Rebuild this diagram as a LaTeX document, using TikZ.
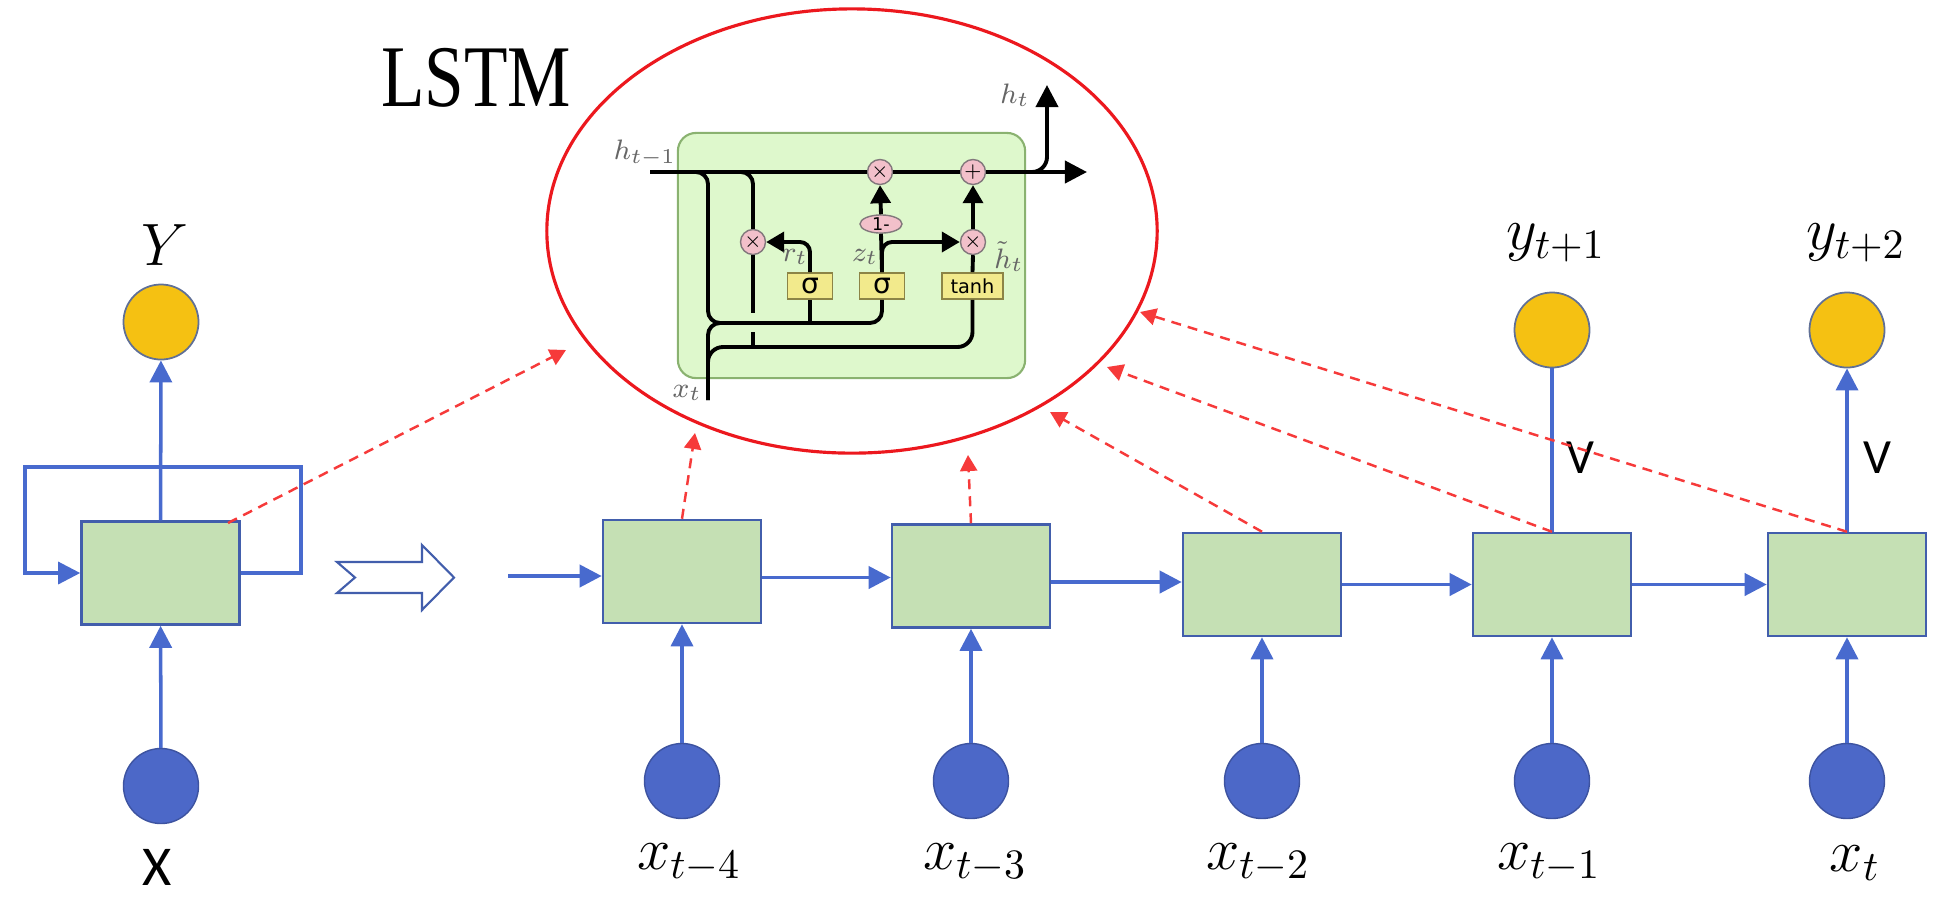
\RequirePackage{fix-cm}
\documentclass[tikz,border=0pt]{standalone}
\usepackage{amsmath}
\usepackage{fontspec}
\newfontfamily\labelsans{Carlito}
\newfontfamily\gatefont{DejaVu Sans}
\newfontfamily\titlefont{Liberation Serif}
\usepackage{tikz}
\usetikzlibrary{positioning, calc, shapes.geometric, arrows.meta}
\definecolor{cellgreen}{RGB}{197, 224, 180}
\definecolor{celledge}{RGB}{66, 94, 172}
\definecolor{rnnblue}{RGB}{72, 106, 206}
\definecolor{inputblue}{RGB}{76, 104, 200}
\definecolor{outyellow}{RGB}{245, 193, 18}
\definecolor{outedge}{RGB}{96, 112, 150}
\definecolor{attnred}{RGB}{246, 58, 58}
\definecolor{ringred}{RGB}{236, 24, 30}
\definecolor{lstmfill}{RGB}{222, 248, 204}
\definecolor{lstmedge}{RGB}{138, 178, 112}
\definecolor{gatefill}{RGB}{242, 234, 140}
\definecolor{gateedge}{RGB}{140, 132, 70}
\definecolor{opfill}{RGB}{242, 192, 202}
\definecolor{opedge}{RGB}{130, 120, 124}
\tikzset{
    cellnode/.style={
        draw=celledge, line width=0.7pt, fill=cellgreen,
        minimum width=1.58cm, minimum height=1.03cm, inner sep=0pt
    },
    inputnode/.style={
        circle, draw=inputblue!80!black, line width=0.4pt, fill=inputblue,
        minimum size=0.75cm, inner sep=0pt
    },
    outputnode/.style={
        circle, draw=outedge, line width=0.5pt, fill=outyellow,
        minimum size=0.75cm, inner sep=0pt
    },
    flow/.style={
        -{Triangle[length=0.22cm, width=0.22cm]}, line width=1.1pt, rnnblue
    },
    attn/.style={
        -{Triangle[length=0.16cm, width=0.17cm]}, dash pattern=on 0.1cm off 0.07cm,
        line width=0.7pt, attnred
    },
    seqlabel/.style={
        font=\fontsize{17}{20}\selectfont, inner sep=0pt
    }
}

\begin{document}
\begin{tikzpicture}[
        x=0.01cm, y=-0.01cm,
        % Style cho o LSTM
        ring/.style={
            ellipse, draw=ringred, line width=0.9pt,
            minimum width=6.1cm, minimum height=4.44cm
        },
        gruframe/.style={
            draw=lstmedge, line width=0.6pt, fill=lstmfill, rounded corners=0.18cm,
            minimum width=3.47cm, minimum height=2.45cm
        },
        opnode/.style={
            circle, draw=opedge, line width=0.4pt, fill=opfill,
            minimum size=0.25cm, inner sep=0pt, font=\fontsize{5}{5}\selectfont
        },
        onenode/.style={
            ellipse, draw=opedge, line width=0.4pt, fill=opfill,
            minimum width=0.42cm, minimum height=0.18cm, inner sep=0pt,
            font=\gatefont\fontsize{5}{5}\selectfont
        },
        gatebox/.style={
            draw=gateedge, line width=0.5pt, fill=gatefill,
            minimum width=0.45cm, minimum height=0.26cm, inner sep=0pt,
            font=\gatefont\fontsize{8}{8}\selectfont
        },
        wire/.style={line width=1.1pt, black},
        gatetip/.style={-{Triangle[length=0.18cm, width=0.2cm]}},
        tinylabel/.style={text=black!60, font=\fontsize{8}{9}\selectfont, inner sep=0pt}
    ]
        \useasboundingbox (0,0) rectangle (1951,902);

        % ======================================
        % RNN GAP (BEN TRAI)
        % ======================================
        \node[cellnode] (rnn) at (160.5,573) {};
        \node[outputnode] (yout) at (161,322) {};
        \node[inputnode] (xin0) at (161,786) {};
        \node[seqlabel] (ylab) at (165,245) {$Y$};
        \node[font=\labelsans\fontsize{16}{18}\selectfont, inner sep=0pt] (xlab) at (157,867) {X};

        \draw[flow, line width=1pt] (xin0) -- (rnn);
        \draw[flow, line width=1pt] (rnn) -- (yout);

        % vong lap hoi quy
        \coordinate (loopNE) at (301,467);
        \coordinate (loopSW) at (25,573);
        \draw[flow, line width=0.9pt] (rnn.east) -| (loopNE) -| (loopSW) -- (rnn.west);

        % mui ten rong (mo ra)
        \draw[celledge, line width=0.6pt, fill=white]
            (337,562) -- (422,562) -- (422,545) -- (454,577.5) -- (422,610)
            -- (422,593) -- (337,593) -- (355,577.5) -- cycle;

        % ======================================
        % RNN TRAI RA THEO THOI GIAN
        % ======================================
        \node[cellnode] (c4) at (682,571.5) {};
        \node[cellnode] (c3) at (971,576) {};
        \node[cellnode] (c2) at (1262,584.5) {};
        \node[cellnode] (c1) at (1552,584.5) {};
        \node[cellnode] (c0) at (1847,584.5) {};

        \node[inputnode] (x4) at (682,781) {};
        \node[inputnode] (x3) at (971,781) {};
        \node[inputnode] (x2) at (1262,781) {};
        \node[inputnode] (x1) at (1552,781) {};
        \node[inputnode] (x0) at (1847,781) {};

        \node[seqlabel] (lx4) at (689,863) {$x_{t-4}$};
        \node[seqlabel] (lx3) at (975,863) {$x_{t-3}$};
        \node[seqlabel] (lx2) at (1258,863) {$x_{t-2}$};
        \node[seqlabel] (lx1) at (1549,863) {$x_{t-1}$};
        \node[seqlabel] (lx0) at (1855,863) {$x_t$};

        \node[outputnode] (y1) at (1552,330) {};
        \node[outputnode] (y0) at (1847,330) {};
        \node[seqlabel] (ly1) at (1556,243) {$y_{t+1}$};
        \node[seqlabel] (ly0) at (1856,243) {$y_{t+2}$};

        \node[font=\labelsans\fontsize{14}{16}\selectfont, inner sep=0pt] (v1) at (1580,458) {V};
        \node[font=\labelsans\fontsize{14}{16}\selectfont, inner sep=0pt] (v0) at (1877,458) {V};

        \coordinate (hstart) at (508,576);
        \draw[flow] (hstart) -- (hstart -| c4.west);
        \draw[flow] ($(c4.east)+(0,6)$) -- ($(c4.east -| c3.west)+(0,6)$);
        \draw[flow] ($(c3.east)+(0,6)$) -- ($(c3.east -| c2.west)+(0,6)$);
        \draw[flow] (c2.east) -- (c1.west);
        \draw[flow] (c1.east) -- (c0.west);

        \draw[flow, line width=1pt] (x4) -- (c4);
        \draw[flow, line width=1pt] (x3) -- (c3);
        \draw[flow, line width=1pt] (x2) -- (c2);
        \draw[flow, line width=1pt] (x1) -- (c1);
        \draw[flow, line width=1pt] (x0) -- (c0);

        \draw[rnnblue, line width=1pt] (c1) -- (y1);
        \draw[flow, line width=1pt] (c0) -- (y0);

        % ======================================
        % O LSTM (PHONG TO)
        % ======================================
        \node[ring] (lstmring) at (852,231) {};
        \node[font=\titlefont\fontsize{25}{28}\selectfont, inner sep=0pt] (lstmtitle) at (476,78) {\scalebox{0.81}[1]{LSTM}};

        \node[gruframe] (grubox) at (851.5,255.5) {};

        \node[opnode] (mulh) at (880,172) {$\times$};
        \node[opnode] (addh) at (973,172) {$+$};
        \node[onenode] (onem) at (881,224) {1-};
        \node[opnode] (mulr) at (753,242) {$\times$};
        \node[opnode] (multh) at (973,242) {$\times$};
        \node[gatebox] (sigr) at (810,286) {σ};
        \node[gatebox] (sigz) at (882,286) {σ};
        \node[gatebox, minimum width=0.61cm, font=\gatefont\fontsize{5.5}{6}\selectfont] (tanhg) at (972.5,286) {tanh};

        \coordinate (hprev) at (650,172);
        \coordinate (hnext) at (1087,172);
        \coordinate (hsplit) at (1030,172);
        \coordinate (htip) at (1047,85);
        \coordinate (br1) at (693,172);
        \coordinate (br2) at (737,172);
        \coordinate (bend1) at (708,323);
        \coordinate (xtin) at (708,400);
        \coordinate (busup) at (760,323);
        \coordinate (buslow) at (800,347);
        \coordinate (gapa) at (753,313);
        \coordinate (gapb) at (753,332);

        % duong trang thai h
        \draw[wire] (hprev) -- (mulh);
        \draw[wire] (mulh) -- (addh);
        \draw[wire, -{Triangle[length=0.22cm, width=0.22cm]}] (addh) -- (hnext);
        \draw[wire, rounded corners=0.15cm, -{Triangle[length=0.22cm, width=0.22cm]}] (hsplit) -| (htip);

        % dau vao cho cac cong
        \draw[wire, rounded corners=0.12cm] (br1) -| (bend1) -| (sigz.south);
        \draw[wire] (sigr.south) -- (sigr.south |- bend1);
        \draw[wire, rounded corners=0.12cm] (xtin) |- (busup);
        \draw[wire, rounded corners=0.15cm] (xtin) |- (buslow) -| (tanhg.south);
        \draw[wire, rounded corners=0.12cm] (br2) -| (mulr.north);
        \draw[wire] (mulr.south) -- (gapa);
        \draw[wire] (gapb) -- (gapb |- buslow);

        % cong r, z va ung vien
        \draw[wire, rounded corners=0.1cm, gatetip] (sigr.north) |- (mulr.east);
        \draw[wire] (sigz.north) -- (onem.south);
        \draw[wire, rounded corners=0.1cm, gatetip] (sigz.north) |- (multh.west);
        \draw[wire] (tanhg.north) -- (multh.south);
        \draw[wire, gatetip] (multh.north) -- (addh.south);
        \draw[wire, gatetip] (onem.north) -- (mulh.south);

        \node[tinylabel] (lhprev) at (645,153) {$h_{t-1}$};
        \node[tinylabel] (lht) at (1015,95) {$h_t$};
        \node[tinylabel] (lxt) at (687,393) {$x_t$};
        \node[tinylabel] (lrt) at (795,257) {$r_t$};
        \node[tinylabel] (lzt) at (865,257) {$z_t$};
        \node[tinylabel] (lhtil) at (1009,257) {$\tilde{h}_t$};

        % ======================================
        % MUI TEN NET DUT (CHIEU VAO LSTM)
        % ======================================
        \coordinate (src0) at (228,523);
        \coordinate (tip0) at (566,350);
        \coordinate (tip4) at (695,433);
        \coordinate (tip3) at (968,455);
        \coordinate (tip2) at (1050,412);
        \coordinate (tip1) at (1107,367);
        \coordinate (tipt) at (1140,312);

        \draw[attn] (src0) -- (tip0);
        \draw[attn] (c4.north) -- (tip4);
        \draw[attn] (c3.north) -- (tip3);
        \draw[attn] (c2.north) -- (tip2);
        \draw[attn] (c1.north) -- (tip1);
        \draw[attn] (c0.north) -- (tipt);

    \end{tikzpicture}
\end{document}
